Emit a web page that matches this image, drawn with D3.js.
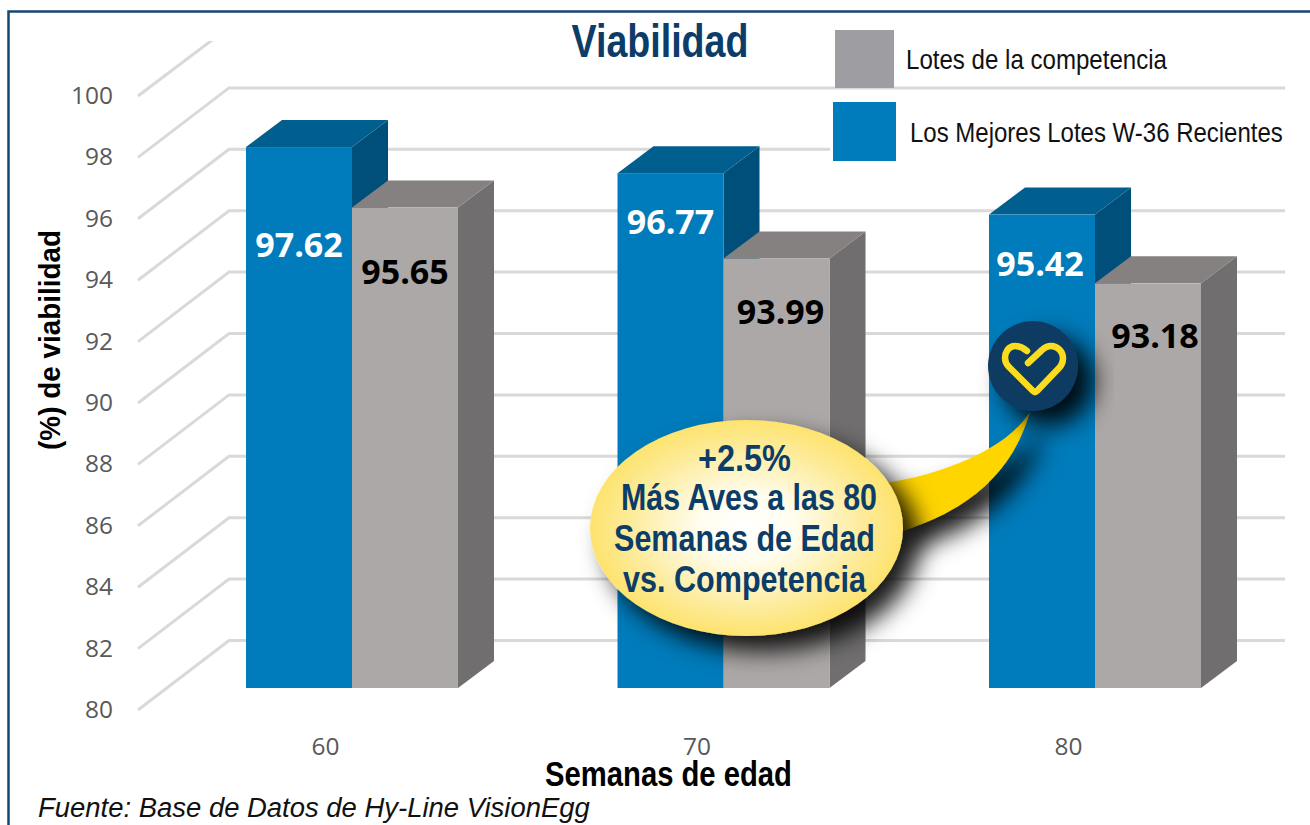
<!DOCTYPE html>
<html><head><meta charset="utf-8">
<script src="https://cdn.jsdelivr.net/npm/d3@7/dist/d3.min.js"></script>
<style>html,body{margin:0;padding:0;background:#fff}svg{display:block}</style>
</head><body><svg id="c" width="1310" height="825"></svg>
<script>
const weeks = ["60","70","80"];
const bestFlocks = [97.62,96.77,95.42];
const competitors = [95.65,93.99,93.18];
const yTicks = [80,82,84,86,88,90,92,94,96,98,100];
const seriesNames = ["Lotes de la competencia","Los Mejores Lotes W-36 Recientes"];
const calloutLines = ["+2.5%","Más Aves a las 80","Semanas de Edad","vs. Competencia"];

const SANS = "'Liberation Sans',Arial,sans-serif";
const HUMAN = "'Open Sans','Noto Sans',sans-serif";
const NAVY = "#0c3c68";
const svg = d3.select("#c");
const defs = svg.append("defs");

const y = d3.scaleLinear().domain([80,100]).range([688,74]);
const x = d3.scalePoint().domain(weeks).range([352,1095]);
const barW = 106, depthX = 36, depthY = 27;

// Text squeezed horizontally to the reference's condensed width.
function fitted(parent,str,px,py,size,width,opts={}){
  const t = parent.append("text")
    .attr("font-family",opts.family||SANS).attr("font-size",size)
    .attr("font-weight",opts.weight||400).attr("font-style",opts.style||"normal")
    .attr("fill",opts.fill||"#111").attr("text-anchor",opts.anchor||"start").text(str);
  const sx = width / t.node().getComputedTextLength();
  t.attr("transform",`translate(${px},${py}) scale(${sx},1)`);
  return t;
}

// frame
svg.append("path").attr("d","M1312,11.5H8.5V827").attr("fill","none").attr("stroke","#174673").attr("stroke-width",2.5);

// gridlines
defs.append("clipPath").attr("id","wall").append("rect").attr("x",0).attr("y",41).attr("width",1310).attr("height",784);
const grid = svg.append("g").attr("clip-path","url(#wall)").attr("fill","none").attr("stroke","#d9d9d9").attr("stroke-width",3);
grid.selectAll("path").data(yTicks).join("path")
  .attr("d",v=> {
    const f=y(v)+22, b=y(v)-47.5;
    return v===100 ? `M138,${f}L230,${b}` : `M138,${f}L229,${b}H1285`;
  });

// axis labels
const tickG = svg.append("g");
yTicks.forEach(v=>fitted(tickG,String(v),113,y(v)+30,24.5,v===100?42:28,{family:HUMAN,anchor:"end",fill:"#595959"}));
weeks.forEach(w=>fitted(tickG,w,x(w)-26.5,755,24.5,28,{family:HUMAN,anchor:"middle",fill:"#595959"}));

// bars
function bar(g,x0,v,front,top,side){
  const t=y(v), b=y(80), r=x0+barW;
  g.append("path").attr("d",`M${r},${t}l${depthX},${-depthY}V${b-depthY}L${r},${b}Z`).attr("fill",side);
  g.append("path").attr("d",`M${x0},${t}l${depthX},${-depthY}H${r+depthX}L${r},${t}Z`).attr("fill",top);
  g.append("rect").attr("x",x0).attr("y",t).attr("width",barW).attr("height",b-t).attr("fill",front);
}
const bars = svg.append("g");
weeks.forEach((w,i)=>{
  bar(bars,x(w)-barW,bestFlocks[i],"#007bbb","#005f8e","#004f7a");
  bar(bars,x(w),competitors[i],"#aca8a7","#858180","#706e6e");
});

// value labels
const blueDrop=[110,61,61], grayDrop=[76,65,65], blueShift=[0,0,-2], grayShift=[0,4,7];
const labels = svg.append("g").attr("font-family",HUMAN).attr("font-weight",700).attr("font-size",34).attr("text-anchor","middle");
weeks.forEach((w,i)=>{
  labels.append("text").attr("x",x(w)-barW/2+blueShift[i]).attr("y",y(bestFlocks[i])+blueDrop[i]).attr("fill","#fff").text(bestFlocks[i].toFixed(2));
  labels.append("text").attr("x",x(w)+barW/2+grayShift[i]).attr("y",y(competitors[i])+grayDrop[i]).attr("fill","#000").text(competitors[i].toFixed(2));
});

// legend
svg.append("rect").attr("x",830).attr("y",25).attr("width",480).attr("height",60).attr("fill","#fff");
svg.append("rect").attr("x",830).attr("y",90).attr("width",480).attr("height",75).attr("fill","#fff");
svg.append("rect").attr("x",835).attr("y",30).attr("width",59).attr("height",58).attr("fill","#9e9ea2");
svg.append("rect").attr("x",833).attr("y",102).attr("width",63).attr("height",59).attr("fill","#007bbb");
fitted(svg,seriesNames[0],906,69,28.5,261);
fitted(svg,seriesNames[1],910,142,28.5,373);

// titles
fitted(svg,"Viabilidad",660,57,47,177,{weight:700,anchor:"middle",fill:NAVY});
fitted(svg,"Semanas de edad",668.5,786,36,247,{weight:700,anchor:"middle",fill:"#000"});
const yt = svg.append("g").attr("transform","translate(60,340) rotate(-90)");
fitted(yt,"(%) de viabilidad",0,0,30,220,{weight:700,anchor:"middle",fill:"#000"});
fitted(svg,"Fuente: Base de Datos de Hy-Line VisionEgg",38,817,27,552,{style:"italic"});

// callout
const sh = defs.append("filter").attr("id","sh").attr("x","-30%").attr("y","-30%").attr("width","170%").attr("height","170%");
sh.append("feDropShadow").attr("dx",16).attr("dy",15).attr("stdDeviation",12).attr("flood-color","#000").attr("flood-opacity",0.9);
const rg = defs.append("radialGradient").attr("id","eg");
rg.append("stop").attr("offset",0).attr("stop-color","#ffffff");
rg.append("stop").attr("offset",0.3).attr("stop-color","#fffdf0");
rg.append("stop").attr("offset",0.75).attr("stop-color","#fdeb9a");
rg.append("stop").attr("offset",1).attr("stop-color","#fde36e");
svg.append("path").attr("d","M880,484 C945,474 1005,450 1030,412 C1012,475 965,515 885,536 Z").attr("fill","#ffd500").attr("filter","url(#sh)");
svg.append("ellipse").attr("cx",746.5).attr("cy",528).attr("rx",156.5).attr("ry",108).attr("fill","url(#eg)").attr("filter","url(#sh)");
const base=[471,510,551,592], lineX=[744.5,749,744.5,744.5], lineW=[93,256,261,243];
const cg = svg.append("g");
calloutLines.forEach((t,i)=>fitted(cg,t,lineX[i],base[i],37,lineW[i],{weight:700,anchor:"middle",fill:NAVY}));

// badge
svg.append("circle").attr("cx",1033).attr("cy",366).attr("r",45).attr("fill","#0d3a62").attr("filter","url(#sh)");
svg.append("path").attr("d","M1027,351 Q1021,346 1015,346 C1008,346 1005,353 1005,358 C1005,362 1007,365 1009,367 L1033,391 Q1035,393 1037,391 L1059,368 C1062,365 1063,362 1063,358 C1063,352 1058,346 1051,346 C1047,346 1044,348 1042,350 L1028,363")
  .attr("fill","none").attr("stroke","#fbdc1e").attr("stroke-width",6.5).attr("stroke-linecap","round").attr("stroke-linejoin","round");
</script></body></html>
